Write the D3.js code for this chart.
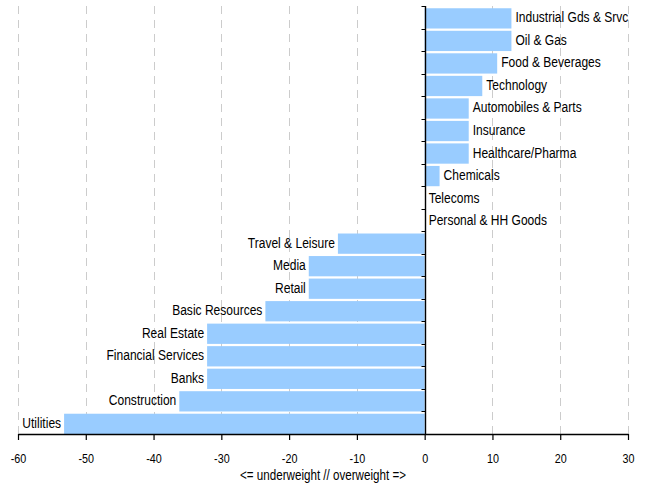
<!DOCTYPE html>
<html>
<head>
<meta charset="utf-8">
<script src="https://cdn.jsdelivr.net/npm/d3@7"></script>
<style>
  body { margin: 0; background: #fff; }
  text { font-family: "Liberation Sans", Arial, sans-serif; fill: #000; }
</style>
</head>
<body>
<div id="chart"></div>
<script>
const categories = [
  "Industrial Gds & Srvc", "Oil & Gas", "Food & Beverages", "Technology",
  "Automobiles & Parts", "Insurance", "Healthcare/Pharma", "Chemicals",
  "Telecoms", "Personal & HH Goods", "Travel & Leisure", "Media", "Retail",
  "Basic Resources", "Real Estate", "Financial Services", "Banks",
  "Construction", "Utilities"
];
const values = [
  12.8, 12.8, 10.7, 8.5, 6.5, 6.5, 6.5, 2.2, 0, 0,
  -12.8, -17.1, -17.1, -23.5, -32.1, -32.1, -32.1, -36.2, -53.2
];
const xTicks = [-60, -50, -40, -30, -20, -10, 0, 10, 20, 30];
const axisTitle = "<= underweight // overweight =>";

const data = categories.map((c, i) => ({ name: c, value: values[i] }));

const width = 646, height = 485;
const squeeze = 0.83; // the reference text is horizontally condensed

const svg = d3.select("#chart").append("svg")
  .attr("width", width)
  .attr("height", height);

const x = d3.scaleLinear().domain([-60, 30]).range([18, 628]);
const y = d3.scaleBand().domain(categories).range([6, 434]);
const barPad = 0.1;

// dashed gridlines
svg.append("g")
  .selectAll("line")
  .data(xTicks.filter((t) => t !== 0))
  .join("line")
  .attr("x1", (d) => Math.round(x(d)) + 0.5)
  .attr("x2", (d) => Math.round(x(d)) + 0.5)
  .attr("y1", 6)
  .attr("y2", 434)
  .attr("stroke", "#cccccc")
  .attr("stroke-width", 1)
  .attr("stroke-dasharray", "8,6");

// bars
svg.append("g")
  .selectAll("rect")
  .data(data)
  .join("rect")
  .attr("x", (d) => x(Math.min(0, d.value)))
  .attr("width", (d) => Math.abs(x(d.value) - x(0)))
  .attr("y", (d) => y(d.name) + y.bandwidth() * barPad)
  .attr("height", y.bandwidth() * (1 - barPad))
  .attr("fill", "#99ccff");

// bar labels
svg.append("g")
  .selectAll("text")
  .data(data)
  .join("text")
  .attr("transform", (d) => {
    const tx = d.value >= 0 ? x(d.value) + 4 : x(d.value) - 3;
    const ty = y(d.name) + y.bandwidth() * 0.5;
    return `translate(${tx},${ty}) scale(${squeeze},1)`;
  })
  .attr("dy", "0.35em")
  .attr("text-anchor", (d) => (d.value >= 0 ? "start" : "end"))
  .style("font-size", "14.5px")
  .text((d) => d.name);

// vertical category axis at zero
const x0 = Math.round(x(0)) + 0.5;
const yAxis = svg.append("g");
yAxis.append("line")
  .attr("x1", x0).attr("x2", x0)
  .attr("y1", 6).attr("y2", 434)
  .attr("stroke", "#000")
  .attr("stroke-width", 1.4);
yAxis.selectAll("line.tick")
  .data(categories.map((c) => y(c)))
  .join("line")
  .attr("class", "tick")
  .attr("x1", x0 - 4).attr("x2", x0)
  .attr("y1", (d) => Math.round(d) + 0.5)
  .attr("y2", (d) => Math.round(d) + 0.5)
  .attr("stroke", "#000");

// bottom value axis
const xAxis = svg.append("g")
  .attr("transform", "translate(0,434)")
  .call(
    d3.axisBottom(x)
      .tickValues(xTicks)
      .tickFormat((d) => String(d))
      .tickSize(6)
      .tickPadding(14)
      .tickSizeOuter(0)
  );
xAxis.select(".domain").attr("stroke", "#000").attr("stroke-width", 1.6);
xAxis.selectAll(".tick line").attr("stroke", "#000").attr("stroke-width", 1.2);
xAxis.selectAll(".tick text")
  .attr("transform", `scale(${squeeze},1)`)
  .style("font-family", '"Liberation Sans", Arial, sans-serif')
  .style("font-size", "13px")
  .attr("fill", "#000");

svg.append("text")
  .attr("transform", `translate(${(x.range()[0] + x.range()[1]) / 2},480) scale(${squeeze},1)`)
  .attr("text-anchor", "middle")
  .style("font-size", "14px")
  .text(axisTitle);
</script>
</body>
</html>
